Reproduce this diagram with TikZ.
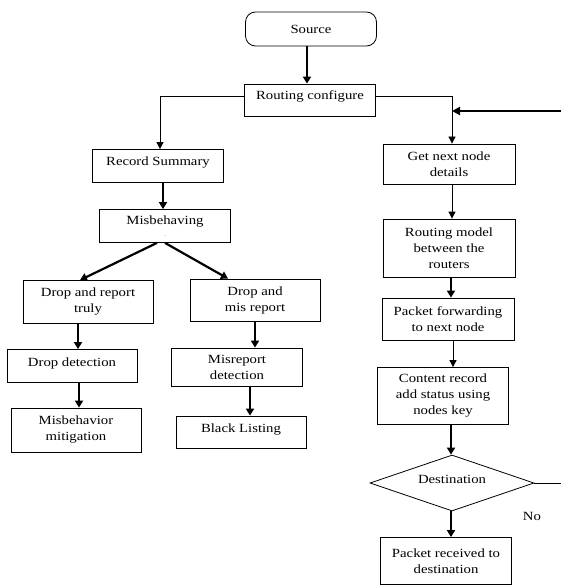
\documentclass[tikz,border=0pt]{standalone}
\usepackage{fontspec}
\setmainfont{Liberation Serif}[FakeStretch=1.18]
\usetikzlibrary{arrows.meta,shapes.geometric}
\begin{document}
\begin{tikzpicture}[x=1pt,y=-1pt,
  box/.style={draw,line width=0.8pt,align=center,font=\fontsize{12.5}{16}\selectfont,inner sep=0pt},
  one/.style={text height=9pt,text depth=9pt},
  lbl/.style={font=\fontsize{12.5}{16}\selectfont,inner sep=0pt},
  thin/.style={line width=0.8pt,-{Triangle[length=7pt,width=7pt]}},
  thk/.style={line width=2.2pt,-{Triangle[length=7pt,width=8pt]}},
  plain/.style={line width=0.8pt}]
\useasboundingbox (0,0) rectangle (561,585);
\node[box,rounded corners=10pt,minimum width=131pt,minimum height=34pt] (src) at (311,29) {Source};
\node[box,one,minimum width=131pt,minimum height=32pt] (rc) at (310,100) {Routing configure};
\node[box,one,minimum width=131pt,minimum height=33pt] (rs) at (158,166) {Record Summary};
\node[box,minimum width=131pt,minimum height=33pt,font=\fontsize{12.5}{14}\selectfont] (mb) at (165,226) {Misbehaving\\[-2pt]{\tiny .}};
\node[box,minimum width=130pt,minimum height=43pt] (drt) at (88,302) {Drop and report\\truly};
\node[box,minimum width=130pt,minimum height=42pt] (dmr) at (255,300) {Drop and\\mis report};
\node[box,one,minimum width=130pt,minimum height=33pt] (dd) at (72,366) {Drop detection};
\node[box,minimum width=130pt,minimum height=44pt] (mm) at (76,430) {Misbehavior\\mitigation};
\node[box,minimum width=131pt,minimum height=38pt] (md) at (237,367) {Misreport\\detection};
\node[box,one,minimum width=130pt,minimum height=32pt] (bl) at (241,432) {Black Listing};
\node[box,minimum width=132pt,minimum height=40pt] (gn) at (449,164) {Get next node\\details};
\node[box,minimum width=132pt,minimum height=58pt] (rm) at (449,248) {Routing model\\between the\\routers};
\node[box,minimum width=132pt,minimum height=42pt] (pf) at (448,319) {Packet forwarding\\to next node};
\node[box,minimum width=131pt,minimum height=57pt] (cr) at (443,396) {Content record\\add status using\\nodes key};
\node[draw,line width=0.8pt,diamond,aspect=2.93,inner sep=0pt,minimum width=164pt,minimum height=56pt] (dst) at (452,483) {};
\node[lbl] (dstl) at (452,479) {Destination};
\node[box,minimum width=131pt,minimum height=47pt] (pr) at (446,561) {Packet received to\\destination};
\node[lbl] (no) at (532,516) {No};
\coordinate (rin) at (561,111);
\coordinate (dout) at (561,483);
\coordinate (rcl) at (160,96);
\coordinate (rcr) at (452,96);
\draw[thk] (src.south -| 307,0) -- (rc.north -| 307,0);
\draw[plain] (rc.west |- rcl) -- (rcl);
\draw[thin] (rcl) -- (rs.north -| rcl);
\draw[plain] (rc.east |- rcr) -- (rcr);
\draw[thin] (rcr) -- (gn.north -| rcr);
\draw[line width=2pt,-{Triangle[length=8pt,width=8pt]}] (rin) -- (rin -| rcr);
\draw[thk] (rs.south -| 163,0) -- (mb.north -| 163,0);
\draw[thk] (mb.south -| 157,0) -- (drt.north -| 80,0);
\draw[thk] (mb.south -| 165,0) -- (dmr.north -| 228,0);
\draw[thk] (drt.south -| 78,0) -- (dd.north -| 78,0);
\draw[thk] (dd.south -| 79,0) -- (mm.north -| 79,0);
\draw[thk] (dmr.south -| 255,0) -- (md.north -| 255,0);
\draw[thk] (md.south -| 250,0) -- (bl.north -| 250,0);
\draw[thin] (gn.south -| 452,0) -- (rm.north -| 452,0);
\draw[thk] (rm.south -| 451,0) -- (pf.north -| 451,0);
\draw[thin] (pf.south -| 453,0) -- (cr.north -| 453,0);
\draw[thk] (cr.south -| 451,0) -- (dst.north -| 451,0);
\draw[thk] (dst.south -| 451,0) -- (pr.north -| 451,0);
\draw[plain] (dst.east) -- (dout);
\end{tikzpicture}
\end{document}
